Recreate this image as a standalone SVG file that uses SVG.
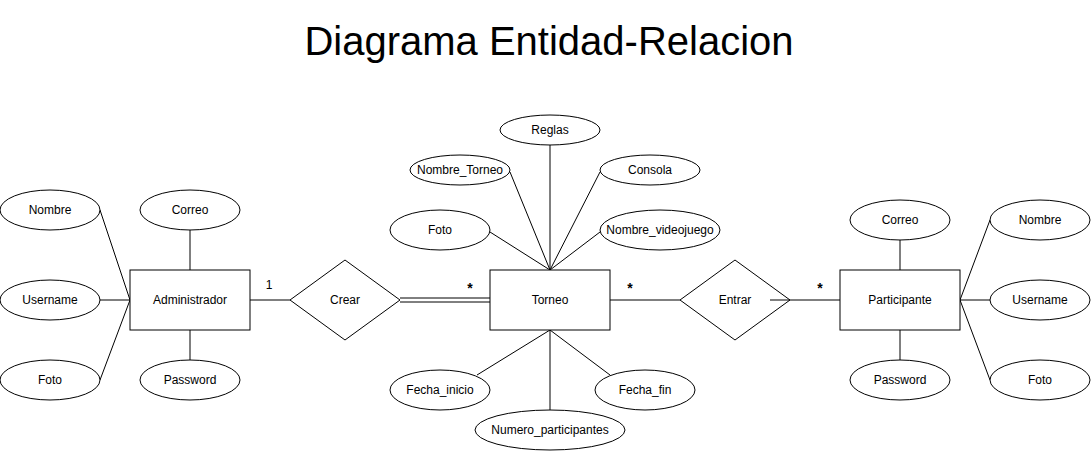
<svg xmlns="http://www.w3.org/2000/svg" width="1091" height="451" viewBox="0 0 1091 451">
<style>
.s{fill:#fff;stroke:#000;stroke-width:1}
.l{stroke:#000;stroke-width:1;fill:none}
text{font-family:"Liberation Sans",Arial,sans-serif;font-size:12px;fill:#000;text-anchor:middle;dominant-baseline:central}
.t{font-size:40px;dominant-baseline:auto}
.st{font-size:14px;font-weight:bold}
</style>
<rect width="1091" height="451" fill="#fff"/>
<text class="t" x="549" y="55">Diagrama Entidad-Relacion</text>
<g id="connectors">
<line class="l" x1="100" y1="210" x2="130" y2="300"/>
<line class="l" x1="100" y1="300" x2="130" y2="300"/>
<line class="l" x1="100" y1="380" x2="130" y2="300"/>
<line class="l" x1="190" y1="230" x2="190" y2="270"/>
<line class="l" x1="190" y1="330" x2="190" y2="360"/>
<line class="l" x1="250" y1="300" x2="290" y2="300"/>
<line class="l" x1="400" y1="298" x2="490" y2="298"/>
<line class="l" x1="400" y1="302" x2="490" y2="302"/>
<line class="l" x1="550" y1="145" x2="550" y2="270"/>
<line class="l" x1="510" y1="172" x2="550" y2="270"/>
<line class="l" x1="600" y1="172" x2="550" y2="270"/>
<line class="l" x1="490" y1="232" x2="550" y2="270"/>
<line class="l" x1="600" y1="232" x2="550" y2="270"/>
<line class="l" x1="550" y1="330" x2="477" y2="375"/>
<line class="l" x1="550" y1="330" x2="550" y2="410"/>
<line class="l" x1="550" y1="330" x2="610" y2="375"/>
<line class="l" x1="610" y1="300" x2="680" y2="300"/>
<line class="l" x1="770" y1="300" x2="840" y2="300"/>
<line class="l" x1="900" y1="240" x2="900" y2="270"/>
<line class="l" x1="900" y1="330" x2="900" y2="360"/>
<line class="l" x1="960" y1="300" x2="990" y2="220"/>
<line class="l" x1="960" y1="300" x2="990" y2="300"/>
<line class="l" x1="960" y1="300" x2="990" y2="380"/>
<text x="269" y="285">1</text>
<text class="st" x="470" y="288">*</text>
<text class="st" x="630" y="288">*</text>
<text class="st" x="820" y="288">*</text>
</g>
<g id="admin"><rect class="s" x="130" y="270" width="120" height="60"/><text x="190" y="300">Administrador</text></g>
<g id="admin-nombre"><ellipse class="s" cx="50" cy="210" rx="50" ry="20"/><text x="50" y="210">Nombre</text></g>
<g id="admin-username"><ellipse class="s" cx="50" cy="300" rx="50" ry="20"/><text x="50" y="300">Username</text></g>
<g id="admin-foto"><ellipse class="s" cx="50" cy="380" rx="50" ry="20"/><text x="50" y="380">Foto</text></g>
<g id="admin-correo"><ellipse class="s" cx="190" cy="210" rx="50" ry="20"/><text x="190" y="210">Correo</text></g>
<g id="admin-password"><ellipse class="s" cx="190" cy="380" rx="50" ry="20"/><text x="190" y="380">Password</text></g>
<g id="crear"><polygon class="s" points="290,300 345,260 400,300 345,340"/><text x="345" y="300">Crear</text></g>
<g id="torneo"><rect class="s" x="490" y="270" width="120" height="60"/><text x="550" y="300">Torneo</text></g>
<g id="t-reglas"><ellipse class="s" cx="550" cy="130" rx="50" ry="15"/><text x="550" y="130">Reglas</text></g>
<g id="t-nombre"><ellipse class="s" cx="460" cy="170" rx="50" ry="15"/><text x="460" y="170">Nombre_Torneo</text></g>
<g id="t-consola"><ellipse class="s" cx="650" cy="170" rx="50" ry="15"/><text x="650" y="170">Consola</text></g>
<g id="t-foto"><ellipse class="s" cx="440" cy="230" rx="50" ry="20"/><text x="440" y="230">Foto</text></g>
<g id="t-videojuego"><ellipse class="s" cx="660" cy="230" rx="60" ry="20"/><text x="660" y="230">Nombre_videojuego</text></g>
<g id="t-inicio"><ellipse class="s" cx="440" cy="390" rx="50" ry="20"/><text x="440" y="390">Fecha_inicio</text></g>
<g id="t-fin"><ellipse class="s" cx="645" cy="390" rx="50" ry="20"/><text x="645" y="390">Fecha_fin</text></g>
<g id="t-numero"><ellipse class="s" cx="550" cy="430" rx="75" ry="20"/><text x="550" y="430">Numero_participantes</text></g>
<g id="entrar"><polygon class="s" points="680,300 735,260 790,300 735,340"/><text x="735" y="300">Entrar</text><line class="l" x1="770" y1="300" x2="790" y2="300"/></g>
<g id="participante"><rect class="s" x="840" y="270" width="120" height="60"/><text x="900" y="300">Participante</text></g>
<g id="p-correo"><ellipse class="s" cx="900" cy="220" rx="50" ry="20"/><text x="900" y="220">Correo</text></g>
<g id="p-password"><ellipse class="s" cx="900" cy="380" rx="50" ry="20"/><text x="900" y="380">Password</text></g>
<g id="p-nombre"><ellipse class="s" cx="1040" cy="220" rx="50" ry="20"/><text x="1040" y="220">Nombre</text></g>
<g id="p-username"><ellipse class="s" cx="1040" cy="300" rx="50" ry="20"/><text x="1040" y="300">Username</text></g>
<g id="p-foto"><ellipse class="s" cx="1040" cy="380" rx="50" ry="20"/><text x="1040" y="380">Foto</text></g>
</svg>
